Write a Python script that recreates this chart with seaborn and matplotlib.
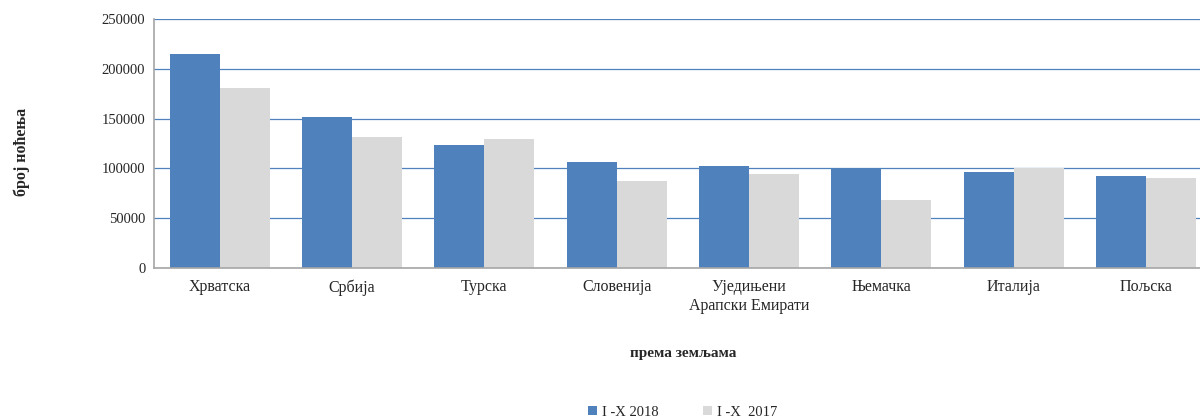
"""Ноћења по земљама, I-X 2018 vs I-X 2017."""
import seaborn as sns
import matplotlib.pyplot as plt
import pandas as pd

zemlje = ["Хрватска", "Србија", "Турска", "Словенија",
          "Уједињени\nАрапски Емирати", "Њемачка", "Италија", "Пољска"]
nocenja_2018 = [214500, 152000, 123500, 106500, 102000, 99500, 96000, 92500]
nocenja_2017 = [181000, 131500, 130000, 87000, 94000, 68500, 100200, 90500]
serije = ["I -X 2018", "I -X  2017"]

df = pd.DataFrame({"zemlja": zemlje * 2,
                   "nocenja": nocenja_2018 + nocenja_2017,
                   "period": [serije[0]] * len(zemlje) + [serije[1]] * len(zemlje)})

sns.set_style("white")
plt.rcParams["font.family"] = ["Liberation Serif", "DejaVu Serif"]

fig = plt.figure(figsize=(12, 4.19), dpi=100)
# desni kraj osa izlazi van slike, kao u originalu
ax = fig.add_axes([0.128, 0.36, 0.882, 0.595])

sns.barplot(data=df, x="zemlja", y="nocenja", hue="period",
            palette=["#4F81BD", "#D9D9D9"], width=0.756, gap=0,
            saturation=1, linewidth=0, ax=ax, zorder=2)

ax.set_ylim(0, 250000)
ax.set_xlim(-0.5, 7.5)
ax.set_yticks(range(0, 250001, 50000))
ax.yaxis.grid(True, color="#4F81BD", linewidth=0.9, zorder=0)
ax.set_axisbelow(True)
for s in ["top", "right"]:
    ax.spines[s].set_visible(False)
for s in ["left", "bottom"]:
    ax.spines[s].set_color("#A6A6A6")
    ax.spines[s].set_linewidth(1.2)
ax.tick_params(axis="y", labelsize=10.5, length=0, pad=6)
ax.tick_params(axis="x", labelsize=11.5, length=0, pad=8)
ax.set_xticks(range(len(zemlje)), zemlje, linespacing=1.2)

ax.set_xlabel("према земљама", fontsize=11, fontweight="bold", labelpad=24)
ax.set_ylabel("")
fig.text(0.018, 0.637, "број ноћења", rotation=90, fontsize=11.5,
         fontweight="bold", ha="center", va="center")

ax.legend(loc="upper center", bbox_to_anchor=(0.5, -0.5), ncol=2,
          frameon=False, fontsize=10.5, handlelength=0.6, handleheight=0.6,
          handletextpad=0.4, columnspacing=3.0)

fig.savefig("out.png", dpi=100)
